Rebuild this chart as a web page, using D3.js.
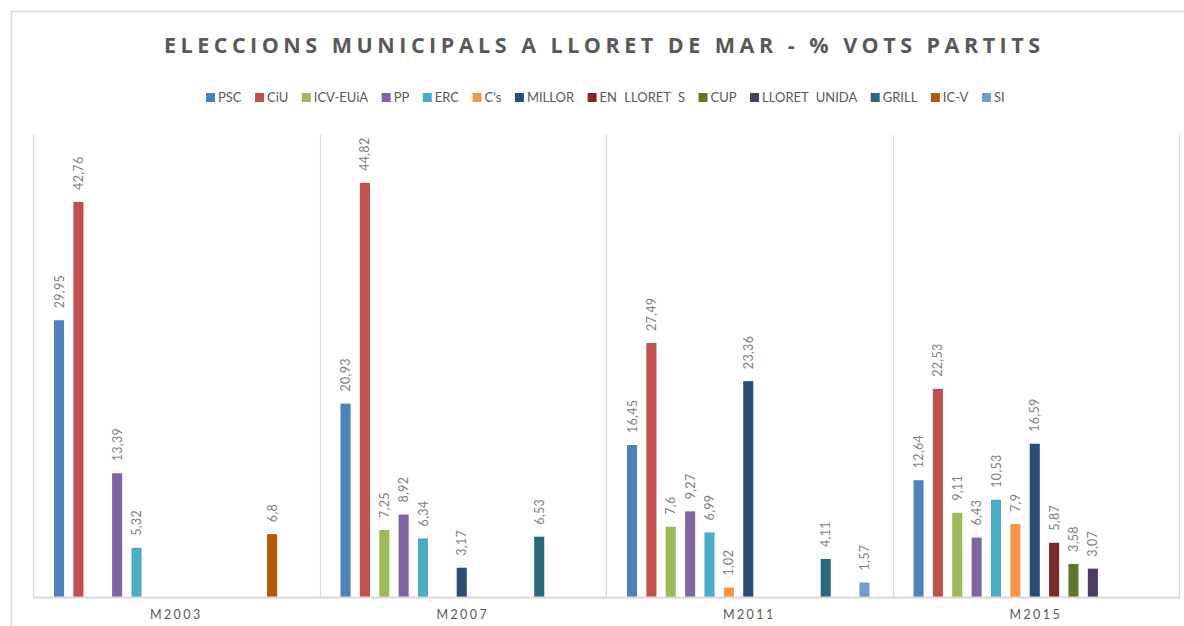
<!DOCTYPE html>
<html>
<head>
<meta charset="utf-8">
<script src="https://cdn.jsdelivr.net/npm/d3@7"></script>
<style>
  body { margin: 0; background: #fff; }
  text { font-family: Lato, "Open Sans", sans-serif; }
</style>
</head>
<body>
<script>
const width = 1184;
const height = 626;

// data
const categories = ['M2003', 'M2007', 'M2011', 'M2015'];
const parties = ['PSC', 'CiU', 'ICV-EUiA', 'PP', 'ERC', "C's", 'MILLOR', 'EN LLORET S', 'CUP', 'LLORET UNIDA', 'GRILL', 'IC-V', 'SI'];
const colors = ['#4F81BD', '#C0504D', '#9BBB59', '#8064A2', '#4BACC6', '#F79646', '#2C4D75', '#772C2A', '#5F7530', '#4D3B62', '#276A7C', '#B65708', '#729ACA'];
// null = party did not stand
const PSC    = [29.95, 20.93, 16.45, 12.64];
const CiU    = [42.76, 44.82, 27.49, 22.53];
const ICV    = [null, 7.25, 7.6, 9.11];
const PP     = [13.39, 8.92, 9.27, 6.43];
const ERC    = [5.32, 6.34, 6.99, 10.53];
const Cs     = [null, null, 1.02, 7.9];
const MILLOR = [null, 3.17, 23.36, 16.59];
const ENLLORETS = [null, null, null, 5.87];
const CUP    = [null, null, null, 3.58];
const LLORETUNIDA = [null, null, null, 3.07];
const GRILL  = [null, 6.53, 4.11, null];
const ICV2   = [6.8, null, null, null];
const SI     = [null, null, 1.57, null];
const series = [PSC, CiU, ICV, PP, ERC, Cs, MILLOR, ENLLORETS, CUP, LLORETUNIDA, GRILL, ICV2, SI];

const svg = d3.select('body').append('svg')
  .attr('width', width)
  .attr('height', height);

// outer frame
svg.append('path')
  .attr('d', `M11.5,${height} V11.5 H${width}`)
  .attr('fill', 'none')
  .attr('stroke', '#d9d9d9')
  .attr('stroke-width', 1.5);

const pLeft = 33, pRight = 1179, pTop = 135, pBottom = 597;

const x0 = d3.scaleBand().domain(categories).range([pLeft, pRight]);
const x1 = d3.scaleBand().domain(parties).range([21, 263.5]).paddingInner(0.48);
const y = d3.scaleLinear().domain([0, 50]).range([pBottom, pTop]);

// category separators
svg.append('g').selectAll('line')
  .data(categories.concat(['end']))
  .join('line')
  .attr('x1', (d, i) => Math.round(pLeft + i * x0.bandwidth()) + 0.5)
  .attr('x2', (d, i) => Math.round(pLeft + i * x0.bandwidth()) + 0.5)
  .attr('y1', pTop)
  .attr('y2', pBottom)
  .attr('stroke', '#d9d9d9')
  .attr('stroke-width', 1.2);

// bars
const cells = [];
series.forEach((s, si) => {
  s.forEach((v, ci) => {
    if (v != null) cells.push({ party: parties[si], color: colors[si], cat: categories[ci], value: v });
  });
});

const g = svg.append('g');
g.selectAll('rect')
  .data(cells)
  .join('rect')
  .attr('x', d => x0(d.cat) + x1(d.party))
  .attr('width', x1.bandwidth())
  .attr('y', d => y(d.value))
  .attr('height', d => y(0) - y(d.value))
  .attr('fill', d => d.color);

g.selectAll('text')
  .data(cells)
  .join('text')
  .attr('transform', d => `translate(${x0(d.cat) + x1(d.party) + x1.bandwidth() / 2 + 4.5},${y(d.value) - 12}) rotate(-90)`)
  .attr('font-size', 12.5)
  .attr('letter-spacing', 0.3)
  .attr('fill', '#7f7f7f')
  .text(d => String(d.value).replace('.', ','));

// baseline
svg.append('line')
  .attr('x1', pLeft).attr('x2', pRight + 1)
  .attr('y1', pBottom + 0.5).attr('y2', pBottom + 0.5)
  .attr('stroke', '#d9d9d9')
  .attr('stroke-width', 2);

// category labels
svg.append('g').selectAll('text')
  .data(categories)
  .join('text')
  .attr('x', d => x0(d) + x0.bandwidth() / 2)
  .attr('y', 619)
  .attr('text-anchor', 'middle')
  .attr('font-size', 12.5)
  .attr('letter-spacing', 2.4)
  .attr('fill', '#595959')
  .text(d => d);

// title
svg.append('text')
  .attr('x', 602)
  .attr('y', 53)
  .attr('text-anchor', 'middle')
  .style('font-family', '"Open Sans", sans-serif')
  .attr('font-size', 21.5)
  .attr('font-weight', 'bold')
  .attr('textLength', 876)
  .attr('lengthAdjust', 'spacing')
  .attr('fill', '#595959')
  .text('ELECCIONS MUNICIPALS A LLORET DE MAR - % VOTS PARTITS');

// legend
const legend = svg.append('g');
const items = legend.selectAll('g')
  .data(parties)
  .join('g');
items.append('rect')
  .attr('width', 9).attr('height', 9)
  .attr('y', 93)
  .attr('fill', (d, i) => colors[i]);
items.append('text')
  .attr('x', 12)
  .attr('y', 102)
  .attr('font-size', 13)
  .attr('word-spacing', 4)
  .attr('fill', '#595959')
  .text(d => d);

let lx = 206;
items.each(function () {
  const el = d3.select(this);
  el.attr('transform', `translate(${lx},0)`);
  lx += 12 + el.select('text').node().getComputedTextLength() + 13.5;
});
</script>
</body>
</html>
